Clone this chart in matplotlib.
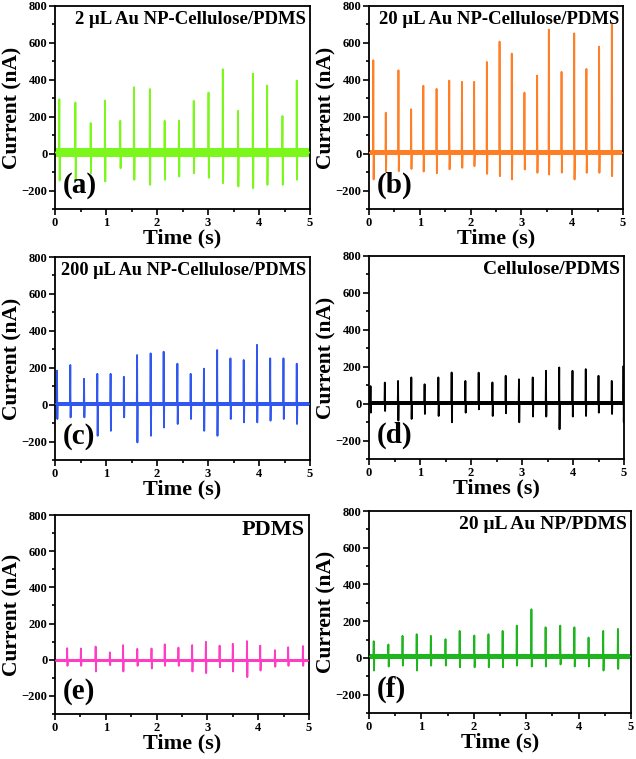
import matplotlib
matplotlib.use("Agg")
import matplotlib.pyplot as plt
from matplotlib.ticker import MultipleLocator

plt.rcParams['font.family'] = ['Liberation Serif', 'DejaVu Serif']
plt.rcParams['font.weight'] = 'bold'

# ---------------- data ----------------
titles = ["2 μL Au NP-Cellulose/PDMS", "20 μL Au NP-Cellulose/PDMS",
          "200 μL Au NP-Cellulose/PDMS", "Cellulose/PDMS",
          "PDMS", "20 μL Au NP/PDMS"]
title_sizes = [13.5, 13.5, 13.2, 14, 16, 14]
panel_labels = ["(a)", "(b)", "(c)", "(d)", "(e)", "(f)"]
xlabels = ["Time (s)", "Time (s)", "Time (s)", "Times (s)", "Time (s)", "Time (s)"]
colors = ["#7cf71c", "#ff7f27", "#3058f0", "#000000", "#ff3cc4", "#1fb51f"]

times_a = [0.085, 0.40, 0.70, 0.98, 1.28, 1.55, 1.86, 2.15, 2.43, 2.72, 3.01, 3.29, 3.59, 3.88, 4.16, 4.46, 4.74]
peaks_a = [295, 277, 166, 288, 178, 360, 350, 178, 178, 286, 331, 458, 232, 434, 369, 204, 396]
neg_a = [-146, -146, -106, -151, -79, -142, -169, -142, -124, -106, -131, -160, -178, -187, -169, -169, -142]

times_b = [0.085, 0.33, 0.58, 0.83, 1.07, 1.33, 1.58, 1.83, 2.07, 2.32, 2.57, 2.81, 3.06, 3.31, 3.54, 3.79, 4.04, 4.28, 4.53, 4.78]
peaks_b = [506, 222, 452, 241, 368, 351, 396, 389, 389, 497, 607, 542, 331, 423, 672, 443, 652, 459, 580, 700]
neg_b = [-140, -95, -95, -83, -97, -106, -85, -77, -68, -110, -122, -140, -86, -104, -113, -103, -140, -104, -104, -122]

times_c = [0.04, 0.30, 0.57, 0.83, 1.09, 1.35, 1.61, 1.875, 2.13, 2.40, 2.66, 2.92, 3.18, 3.44, 3.70, 3.96, 4.22, 4.48, 4.74]
peaks_c = [184, 215, 140, 167, 167, 151, 269, 278, 287, 222, 167, 195, 296, 251, 242, 324, 251, 251, 222]
neg_c = [-78, -69, -69, -169, -142, -69, -205, -169, -124, -105, -78, -142, -169, -78, -96, -96, -87, -78, -105]

times_d = [0.03, 0.31, 0.57, 0.83, 1.09, 1.36, 1.62, 1.89, 2.15, 2.42, 2.68, 2.94, 3.21, 3.47, 3.73, 3.99, 4.25, 4.50, 4.76, 4.99]
peaks_d = [95, 114, 123, 142, 105, 142, 169, 123, 168, 115, 151, 132, 142, 178, 196, 178, 187, 151, 123, 204]
neg_d = [-49, -40, -92, -83, -56, -67, -101, -49, -31, -67, -52, -101, -70, -70, -139, -70, -67, -49, -56, -101]

times_e = [0.24, 0.51, 0.80, 1.08, 1.34, 1.62, 1.90, 2.16, 2.43, 2.70, 2.97, 3.24, 3.50, 3.78, 4.04, 4.33, 4.59, 4.88]
peaks_e = [64, 62, 73, 41, 81, 60, 62, 85, 67, 81, 99, 78, 88, 103, 78, 53, 69, 76]
neg_e = [-34, -34, -65, -30, -65, -34, -48, -34, -34, -65, -74, -42, -65, -96, -60, -39, -34, -34]

times_f = [0.09, 0.37, 0.64, 0.91, 1.18, 1.46, 1.73, 2.01, 2.28, 2.55, 2.82, 3.10, 3.37, 3.65, 3.92, 4.19, 4.47, 4.75]
peaks_f = [91, 73, 120, 129, 120, 102, 147, 122, 129, 147, 176, 265, 167, 176, 167, 111, 147, 158]
neg_f = [-69, -47, -42, -69, -42, -42, -51, -51, -51, -51, -42, -47, -47, -36, -47, -47, -69, -60]

baseline = [6, 4, 3, 4, -5, 8]          # baseline level of each trace (nA)
noise_band = [24, 14, 10, 12, 8, 16]    # half-width of the baseline noise band (nA)

all_times = [times_a, times_b, times_c, times_d, times_e, times_f]
all_peaks = [peaks_a, peaks_b, peaks_c, peaks_d, peaks_e, peaks_f]
all_negs = [neg_a, neg_b, neg_c, neg_d, neg_e, neg_f]

# ---------------- layout (pixels) ----------------
W, H = 636, 759
boxes = [(55, 6, 310, 209), (369, 6, 623, 209),
         (55, 257, 310, 460), (369, 256, 624, 459),
         (55, 515, 309, 714), (369, 511, 631, 713)]

fig = plt.figure(figsize=(W / 100, H / 100), dpi=100)

for i in range(6):
    l, t, r, b = boxes[i]
    ax = fig.add_axes([l / W, 1 - b / H, (r - l) / W, (b - t) / H])
    c = colors[i]
    base = baseline[i]
    nb = noise_band[i]
    # build spike trace from the data
    xs, ys = [0.0], [base]
    d = 0.006
    for tt, p, n in zip(all_times[i], all_peaks[i], all_negs[i]):
        xs += [tt - d, tt, tt + d, tt + 2 * d]
        ys += [base, p, n, base]
    xs.append(5.0)
    ys.append(base)
    ax.fill_between([0, 5], [base - nb, base - nb], [base + nb, base + nb],
                    color=c, lw=0, zorder=2)
    ax.plot(xs, ys, color=c, lw=1.3, zorder=3)

    ax.set_xlim(0, 5)
    ax.set_ylim(-300, 800)
    ax.xaxis.set_major_locator(MultipleLocator(1))
    ax.xaxis.set_minor_locator(MultipleLocator(0.5))
    ax.yaxis.set_major_locator(MultipleLocator(200))
    ax.yaxis.set_minor_locator(MultipleLocator(100))
    ax.tick_params(which='both', direction='out', top=False, right=False,
                   width=1.2, labelsize=9, pad=1.5)
    ax.tick_params(which='major', length=4)
    ax.tick_params(which='minor', length=2.5)
    for s in ax.spines.values():
        s.set_linewidth(1.3)
    for lab in ax.get_xticklabels() + ax.get_yticklabels():
        lab.set_fontweight('bold')
    ax.set_xlabel(xlabels[i], fontsize=16, fontweight='bold', labelpad=0)
    ax.set_ylabel("Current (nA)", fontsize=15.5, fontweight='bold', labelpad=-1)
    ax.text(0.985, 0.975, titles[i], transform=ax.transAxes, ha='right', va='top',
            fontsize=title_sizes[i], fontweight='bold')
    ax.text(0.03, 0.115, panel_labels[i], transform=ax.transAxes, ha='left', va='center',
            fontsize=21, fontweight='bold')

fig.savefig("out.png", dpi=100)
